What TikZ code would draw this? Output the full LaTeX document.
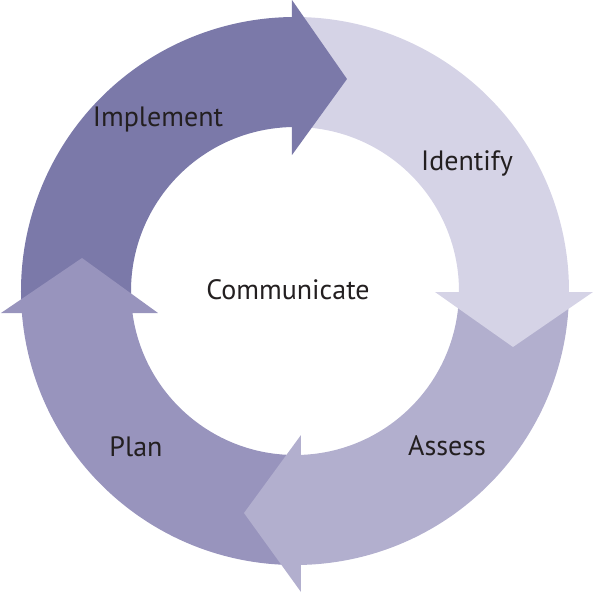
\documentclass[tikz,border=0pt]{standalone}
\usepackage{fontspec}
\setmainfont{PT Sans}
\usepackage{tikz}
\usetikzlibrary{positioning}
\definecolor{implementc}{HTML}{7B79A9}
\definecolor{identifyc}{HTML}{D5D3E6}
\definecolor{assessc}{HTML}{B2AFCE}
\definecolor{planc}{HTML}{9894BD}
\definecolor{labelc}{HTML}{231F20}

\begin{document}
\begin{tikzpicture}[x=1pt, y=1pt,
    steplabel/.style={text=labelc, font=\fontsize{28}{32}\selectfont, inner sep=0pt}]
    \useasboundingbox (-295,-307) rectangle (298,291);

    % Ring bodies (outer radius 274pt, inner 164pt)
    \fill[identifyc] (91:274pt) arc[start angle=91, end angle=-2, radius=274pt]
        -- (-2:164pt) arc[start angle=-2, end angle=91, radius=164pt] -- cycle;
    \fill[assessc] (-1:274pt) arc[start angle=-1, end angle=-91, radius=274pt]
        -- (-91:164pt) arc[start angle=-91, end angle=-1, radius=164pt] -- cycle;
    \fill[planc] (271:274pt) arc[start angle=271, end angle=183, radius=274pt]
        -- (183:164pt) arc[start angle=183, end angle=271, radius=164pt] -- cycle;
    \fill[implementc] (184:274pt) arc[start angle=184, end angle=89, radius=274pt]
        -- (89:164pt) arc[start angle=89, end angle=184, radius=164pt] -- cycle;

    % Arrow heads
    \fill[implementc] (-3,291) -- (52,212) -- (-3,136) -- cycle;
    \fill[identifyc] (140,-1) -- (218,-56) -- (298,-1) -- cycle;
    \fill[assessc] (6,-144) -- (-51,-222) -- (6,-301) -- cycle;
    \fill[planc] (-294,-22) -- (-213,33) -- (-137,-22) -- cycle;

    % Labels
    \node[steplabel] (implement) at (-137,172) {Implement};
    \node[steplabel] (identify) at (172,128) {Identify};
    \node[steplabel] (assess) at (152,-155) {Assess};
    \node[steplabel] (plan) at (-159,-156) {Plan};
    \node[steplabel] (communicate) at (-7,1) {Communicate};
\end{tikzpicture}
\end{document}
